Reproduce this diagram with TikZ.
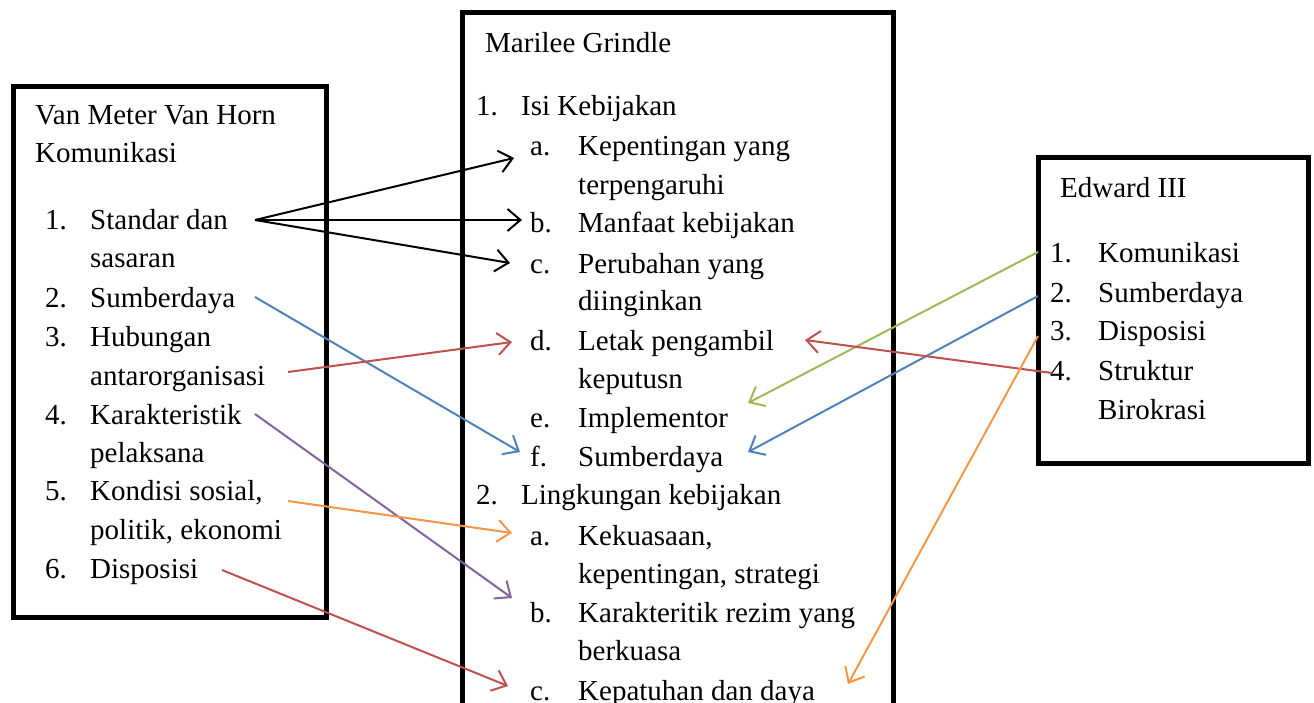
\documentclass[tikz,border=0pt]{standalone}
\usepackage{fontspec}
\setmainfont{Liberation Serif}
\usetikzlibrary{arrows.meta}
\definecolor{cred}{HTML}{C0504D}
\definecolor{cblue}{HTML}{4F81BD}
\definecolor{cgreen}{HTML}{9BBB59}
\definecolor{cpurple}{HTML}{8064A2}
\definecolor{corange}{HTML}{F79646}
\begin{document}
\begin{tikzpicture}[x=1pt,y=-1pt,
  txt/.style={anchor=base west,inner sep=0pt,font=\fontsize{29}{38}\selectfont},
  box/.style={draw=black,line width=5pt},
  link/.style={line width=2pt,-{Straight Barb[length=13pt,width=22pt,line width=2pt]}}]
\useasboundingbox (0,0) rectangle (1314,702);
\begin{scope}
\clip (0,0) rectangle (1314,702);
\draw[box] (13,86) rectangle (326,617);
\draw[box] (462,12) rectangle (893,720);
\draw[box] (1038,157) rectangle (1308,463);
\end{scope}
% left box
\node[txt] (l0) at (35,124) {Van Meter Van Horn};
\node[txt] (l0b) at (35,162) {Komunikasi};
\node[txt] (ln1) at (45,229) {1.};
\node[txt] (l1) at (90,229) {Standar dan};
\node[txt] (l1b) at (90,267) {sasaran};
\node[txt] (ln2) at (45,307) {2.};
\node[txt] (l2) at (90,307) {Sumberdaya};
\node[txt] (ln3) at (45,346) {3.};
\node[txt] (l3) at (90,346) {Hubungan};
\node[txt] (l3b) at (90,385) {antarorganisasi};
\node[txt] (ln4) at (45,424) {4.};
\node[txt] (l4) at (90,424) {Karakteristik};
\node[txt] (l4b) at (90,462) {pelaksana};
\node[txt] (ln5) at (45,500) {5.};
\node[txt] (l5) at (90,500) {Kondisi sosial,};
\node[txt] (l5b) at (90,539) {politik, ekonomi};
\node[txt] (ln6) at (45,578) {6.};
\node[txt] (l6) at (90,578) {Disposisi};
% middle box
\node[txt] (m0) at (485,52) {Marilee Grindle};
\node[txt] (mn1) at (476,115) {1.};
\node[txt] (m1) at (521,115) {Isi Kebijakan};
\node[txt] (mla) at (530,155) {a.};
\node[txt] (ma) at (578,155) {Kepentingan yang};
\node[txt] (mab) at (578,194) {terpengaruhi};
\node[txt] (mlb) at (530,232) {b.};
\node[txt] (mb) at (578,232) {Manfaat kebijakan};
\node[txt] (mlc) at (530,273) {c.};
\node[txt] (mc) at (578,273) {Perubahan yang};
\node[txt] (mcb) at (578,310) {diinginkan};
\node[txt] (mld) at (530,350) {d.};
\node[txt] (md) at (578,350) {Letak pengambil};
\node[txt] (mdb) at (578,388) {keputusn};
\node[txt] (mle) at (530,427) {e.};
\node[txt] (me) at (578,427) {Implementor};
\node[txt] (mlf) at (530,466) {f.};
\node[txt] (mf) at (578,466) {Sumberdaya};
\node[txt] (mn2) at (476,504) {2.};
\node[txt] (m2) at (521,504) {Lingkungan kebijakan};
\node[txt] (mla2) at (530,545) {a.};
\node[txt] (ma2) at (578,545) {Kekuasaan,};
\node[txt] (ma2b) at (578,583) {kepentingan, strategi};
\node[txt] (mlb2) at (530,622) {b.};
\node[txt] (mb2) at (578,622) {Karakteritik rezim yang};
\node[txt] (mb2b) at (578,660) {berkuasa};
\node[txt] (mlc2) at (530,700) {c.};
\node[txt] (mc2) at (578,700) {Kepatuhan dan daya};
% right box
\node[txt] (r0) at (1060,197) {Edward III};
\node[txt] (rn1) at (1050,262) {1.};
\node[txt] (r1) at (1098,262) {Komunikasi};
\node[txt] (rn2) at (1050,302) {2.};
\node[txt] (r2) at (1098,302) {Sumberdaya};
\node[txt] (rn3) at (1050,340) {3.};
\node[txt] (r3) at (1098,340) {Disposisi};
\node[txt] (rn4) at (1050,380) {4.};
\node[txt] (r4) at (1098,380) {Struktur};
\node[txt] (r4b) at (1098,419) {Birokrasi};
% arrow ends
\coordinate (s1) at (255,220);
\coordinate (ta) at (514,158);
\coordinate (tb) at (522,220);
\coordinate (tc) at (510,263);
\coordinate (s2) at (255,297);
\coordinate (tf) at (520,452);
\coordinate (s3) at (288,372);
\coordinate (td) at (512,342);
\coordinate (s4) at (255,414);
\coordinate (tb2) at (512,598);
\coordinate (s5) at (288,501);
\coordinate (ta2) at (512,533);
\coordinate (s6) at (222,570);
\coordinate (tc2) at (508,686);
\coordinate (e1) at (1038,252);
\coordinate (te) at (748,403);
\coordinate (e2) at (1038,296);
\coordinate (tf2) at (748,452);
\coordinate (e4) at (1052,373);
\coordinate (td2) at (805,340);
\coordinate (e3) at (1038,336);
\coordinate (tc3) at (848,684);
\draw[link] (s1) -- (ta);
\draw[link] (s1) -- (tb);
\draw[link] (s1) -- (tc);
\draw[link,cblue] (s2) -- (tf);
\draw[link,cred] (s3) -- (td);
\draw[link,cpurple] (s4) -- (tb2);
\draw[link,corange] (s5) -- (ta2);
\draw[link,cred] (s6) -- (tc2);
\draw[link,cgreen] (e1) -- (te);
\draw[link,cblue] (e2) -- (tf2);
\draw[link,cred] (e4) -- (td2);
\draw[link,corange] (e3) -- (tc3);
\end{tikzpicture}
\end{document}
